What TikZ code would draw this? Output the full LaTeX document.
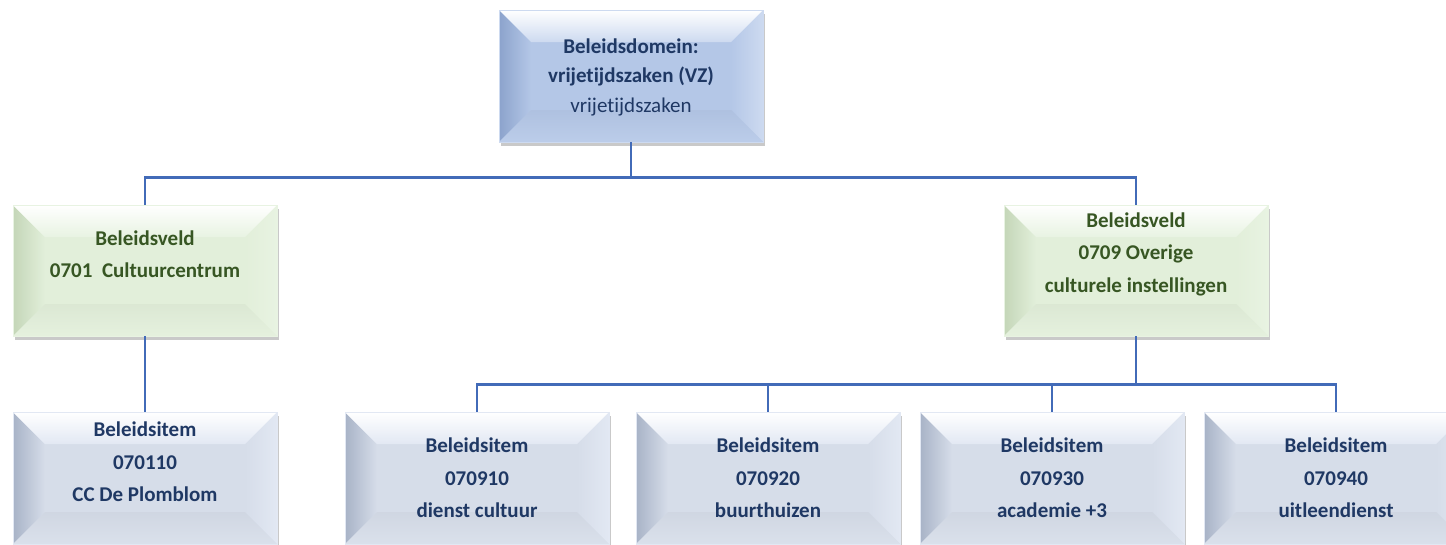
\documentclass[tikz,border=0pt]{standalone}
\usepackage{fontspec}
\setmainfont[Ligatures=NoCommon]{Carlito}
\usetikzlibrary{shadows}
\definecolor{linec}{RGB}{66,107,184}
\definecolor{tblue}{RGB}{31,56,100}
\definecolor{tgreen}{RGB}{55,86,35}
\definecolor{topbase}{RGB}{180,199,231}
\definecolor{topdark}{RGB}{140,163,204}
\definecolor{toplight}{RGB}{205,218,240}
\definecolor{grbase}{RGB}{226,239,218}
\definecolor{grdark}{RGB}{196,214,184}
\definecolor{grlight}{RGB}{232,243,226}
\definecolor{itbase}{RGB}{214,221,233}
\definecolor{itdark}{RGB}{168,179,199}
\definecolor{itlight}{RGB}{226,232,243}
\tikzset{
  bevelbox/.style n args={3}{rectangle, inner sep=0pt,
    minimum width=264pt, minimum height=132pt,
    fill=#1, draw=#3, line width=0.8pt,
    drop shadow={shadow xshift=2pt, shadow yshift=-4pt, opacity=0.3, fill=black!70},
    path picture={
      \coordinate (pnw) at (path picture bounding box.north west);
      \coordinate (pne) at (path picture bounding box.north east);
      \coordinate (psw) at (path picture bounding box.south west);
      \coordinate (pse) at (path picture bounding box.south east);
      \shade[left color=#2, right color=#1] (pnw) -- ([xshift=32pt,yshift=-32pt]pnw) -- ([xshift=32pt,yshift=32pt]psw) -- (psw) -- cycle;
      \shade[left color=#1, right color=#3] (pne) -- ([xshift=-32pt,yshift=-32pt]pne) -- ([xshift=-32pt,yshift=32pt]pse) -- (pse) -- cycle;
      \shade[top color=#1!97!black, bottom color=#1!90!white] (psw) -- ([xshift=32pt,yshift=32pt]psw) -- ([xshift=-32pt,yshift=32pt]pse) -- (pse) -- cycle;
      \shade[top color=white, bottom color=#3] (pnw) -- ([xshift=32pt,yshift=-32pt]pnw) -- ([xshift=-32pt,yshift=-32pt]pne) -- (pne) -- cycle;
    }},
  topbox/.style={bevelbox={topbase}{topdark}{toplight}},
  grbox/.style={bevelbox={grbase}{grdark}{grlight}, minimum height=131pt},
  itbox/.style={bevelbox={itbase}{itdark}{itlight}},
  conn/.style={draw=linec, line width=2.6pt},
  btxt/.style={text=tblue, align=center, inner sep=0pt, font=\fontsize{21}{32.5}\selectfont\bfseries},
  gtxt/.style={text=tgreen, align=center, inner sep=0pt, font=\fontsize{21}{32.5}\selectfont\bfseries},
}
\begin{document}
\begin{tikzpicture}[x=1pt,y=-1pt]
\useasboundingbox (0,0) rectangle (1446,544);
% boxes
\node[topbox] (top) at (631,76) {};
\node[grbox] (g1) at (145,270.5) {};
\node[grbox] (g2) at (1136,270.5) {};
\node[itbox] (i1) at (145,478) {};
\node[itbox] (i2) at (477,478) {};
\node[itbox] (i3) at (768,478) {};
\node[itbox] (i4) at (1052,478) {};
\node[itbox] (i5) at (1336,478) {};
% lines
\draw[conn] (top.south) -- ++(0,35) coordinate (h0) -| (g1.north);
\draw[conn] (h0) -| (g2.north);
\draw[conn] (g1.south) -- (i1.north);
\draw[conn] (g2.south) -- ++(0,48) coordinate (h1) -| (i2.north);
\draw[conn] (h1) -| (i3.north);
\draw[conn] (h1) -| (i4.north);
\draw[conn] (h1) -| (i5.north);
% texts
\node[btxt, font=\fontsize{21}{29.5}\selectfont] (t0) at (631,77) {\textbf{Beleidsdomein:}\\\textbf{vrijetijdszaken (VZ)}\\vrijetijdszaken};
\node[gtxt] (tg1) at (145,254) {Beleidsveld\\0701~~Cultuurcentrum};
\node[gtxt] (tg2) at (1136,254) {Beleidsveld\\0709 Overige\\culturele instellingen};
\node[btxt] (ti1) at (145,462) {Beleidsitem\\070110\\CC De Plomblom};
\node[btxt] (ti2) at (477,478) {Beleidsitem\\070910\\dienst cultuur};
\node[btxt] (ti3) at (768,478) {Beleidsitem\\070920\\buurthuizen};
\node[btxt] (ti4) at (1052,478) {Beleidsitem\\070930\\academie +3};
\node[btxt] (ti5) at (1336,478) {Beleidsitem\\070940\\uitleendienst};
\end{tikzpicture}
\end{document}
